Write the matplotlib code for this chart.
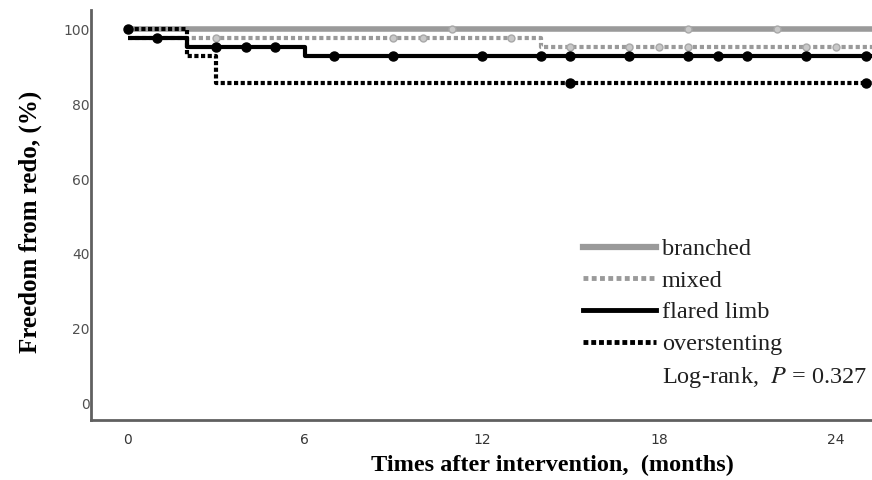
import numpy as np
import matplotlib
matplotlib.use("Agg")
import matplotlib.pyplot as plt
from matplotlib.lines import Line2D

plt.rcParams['font.family'] = ['Liberation Serif', 'DejaVu Serif']
plt.rcParams['mathtext.fontset'] = 'stix'

# ---- data ----
groups = ["branched", "mixed", "flared limb", "overstenting"]

branched_t = [0, 25.5]
branched_s = [100.0, 100.0]
branched_cens = [11, 19, 22]

mixed_t = [0, 14, 25.5]
mixed_s = [97.7, 95.3, 95.3]
mixed_cens = [3, 9, 10, 13, 15, 17, 18, 19, 23, 24]

flared_t = [0, 2, 6, 25.5]
flared_s = [97.7, 95.3, 93.0, 93.0]
flared_cens = [1, 3, 4, 5, 7, 9, 12, 14, 15, 17, 19, 20, 21, 23, 25]

over_t = [0, 2, 3, 25.5]
over_s = [100.0, 92.9, 85.7, 85.7]
over_cens = [0, 15, 25]

xticks = [0, 6, 12, 18, 24]
yticks = [0, 20, 40, 60, 80, 100]
pval = "0.327"


def step_at(t, times, surv):
    idx = np.searchsorted(times, t, side='right') - 1
    return np.asarray(surv)[np.clip(idx, 0, len(surv) - 1)]


fig = plt.figure(figsize=(8.72, 4.8), dpi=100)
ax = fig.add_axes([91 / 872, 1 - 420 / 480, 1 - 91 / 872, 410 / 480])

gray = '#9a9a9a'
styles = {
    "branched": dict(color=gray, lw=4.0, ls='-'),
    "mixed": dict(color=gray, lw=3.0, ls=(0, (1.0, 0.7))),
    "flared limb": dict(color='black', lw=3.0, ls='-'),
    "overstenting": dict(color='black', lw=3.0, ls=(0, (1.0, 0.6))),
}
series = {
    "branched": (branched_t, branched_s, branched_cens),
    "mixed": (mixed_t, mixed_s, mixed_cens),
    "flared limb": (flared_t, flared_s, flared_cens),
    "overstenting": (over_t, over_s, over_cens),
}

handles = []
for g in groups:
    t, s, c = series[g]
    st = styles[g]
    ax.step(t, s, where='post', color=st['color'], lw=st['lw'], ls=st['ls'],
            solid_capstyle='butt', dash_capstyle='butt', zorder=3)
    cy = step_at(np.array(c), t, s)
    if st['color'] == 'black':
        ax.plot(c, cy, 'o', color='black', ms=6.5, zorder=4)
    else:
        ax.plot(c, cy, 'o', mfc='#c8c8c8', mec='#a8a8a8', ms=5, mew=1, zorder=4)
    handles.append(Line2D([], [], color=st['color'], lw=st['lw'] + 0.5, ls=st['ls']))

handles.append(Line2D([], [], color='none'))
labels = groups + ["Log-rank,  $P$ = " + pval]

leg = ax.legend(handles, labels, loc='upper left',
                bbox_to_anchor=(583 / 872, 1 - 238 / 480),
                bbox_transform=fig.transFigure, frameon=False,
                fontsize=17.5, handlelength=3.0, handletextpad=0.25,
                labelspacing=0.4, borderpad=0, borderaxespad=0)
for txt in leg.get_texts():
    txt.set_color('#202020')

ax.set_xlim(-1.25, 25.22)
ax.set_ylim(-4.4, 105.2)
ax.set_xticks(xticks)
ax.set_yticks(yticks)
ax.tick_params(length=0)
for lab in ax.get_xticklabels() + ax.get_yticklabels():
    lab.set_family('DejaVu Sans')
ax.tick_params(axis='x', labelsize=10, labelcolor='#353535', pad=9)
ax.tick_params(axis='y', labelsize=10, labelcolor='#505050', pad=1)

for side in ['top', 'right']:
    ax.spines[side].set_visible(False)
for side in ['left', 'bottom']:
    ax.spines[side].set_color('#606060')
    ax.spines[side].set_linewidth(2)

ax.set_xlabel("Times after intervention,  (months)", fontsize=17.5,
              fontweight='bold')
ax.xaxis.label.set_va('center')
ax.set_ylabel("Freedom from redo, (%)", fontsize=18, fontweight='bold')
ax.yaxis.label.set_va('center')

ax.xaxis.set_label_coords((552 - 91) / (872 - 91), -(465 - 420) / 410)
ax.yaxis.set_label_coords(-(91 - 30) / (872 - 91), (420 - 222) / 410)

fig.savefig("out.png", dpi=100)
